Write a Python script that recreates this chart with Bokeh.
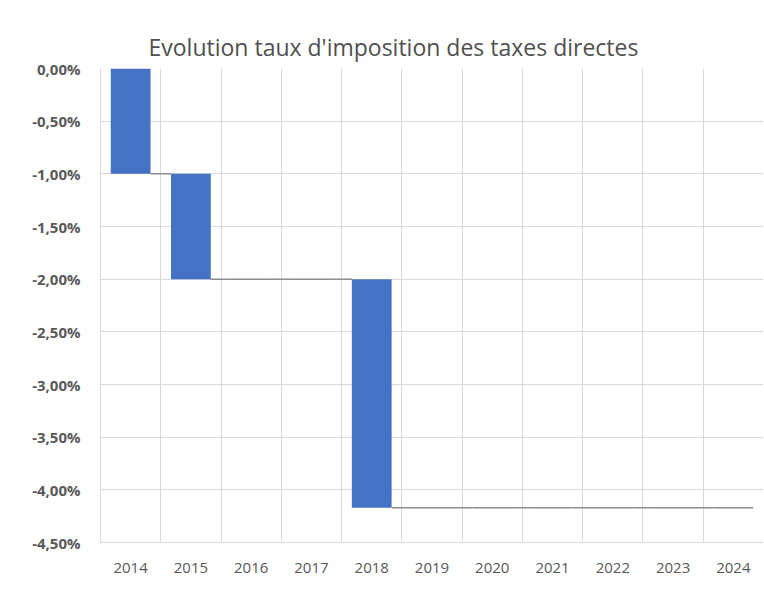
from bokeh.plotting import figure
from bokeh.models import FixedTicker, Grid, ColumnDataSource, Range1d
from bokeh.embed import file_html
from bokeh.resources import INLINE

years = ["2014", "2015", "2016", "2017", "2018", "2019", "2020", "2021", "2022", "2023", "2024"]
changes = [-1.00, -1.00, 0.0, 0.0, -2.17, 0.0, 0.0, 0.0, 0.0, 0.0, 0.0]
y_ticks = [0.0, -0.5, -1.0, -1.5, -2.0, -2.5, -3.0, -3.5, -4.0, -4.5]
y_tick_labels = ["0,00%", "-0,50%", "-1,00%", "-1,50%", "-2,00%", "-2,50%",
                 "-3,00%", "-3,50%", "-4,00%", "-4,50%"]

# waterfall start/end levels
starts, ends = [], []
level = 0.0
for c in changes:
    starts.append(level)
    level += c
    ends.append(level)

W = 0.66
xs = list(range(len(years)))

p = figure(width=763, height=592, output_backend="svg", toolbar_location=None,
           x_range=Range1d(-0.5, len(years) - 0.5), y_range=Range1d(-4.5, 0.0),
           title="Evolution taux d'imposition des taxes directes",
           min_border_left=100, min_border_right=0, min_border_top=68, min_border_bottom=50)

p.title.align = "left"
p.title.offset = 48
p.title.text_font = "Open Sans"
p.title.text_font_size = "23px"
p.title.text_font_style = "normal"
p.title.text_color = "#505050"
p.title.standoff = 12

bar_src = ColumnDataSource(dict(
    x=[x for x, c in zip(xs, changes) if c != 0],
    top=[s for s, c in zip(starts, changes) if c != 0],
    bottom=[e for e, c in zip(ends, changes) if c != 0],
))
p.vbar(x="x", width=W, top="top", bottom="bottom", source=bar_src,
       fill_color="#4472C4", line_color=None)

# connector / zero-change lines
x0, x1, yl = [], [], []
for i in range(len(years)):
    if changes[i] == 0:
        x0.append(i - W / 2); x1.append(i + W / 2); yl.append(ends[i])
    if i < len(years) - 1:
        x0.append(i + W / 2); x1.append(i + 1 - W / 2); yl.append(ends[i])
p.segment(x0=x0, y0=yl, x1=x1, y1=yl, line_color="#8c8c8c", line_width=1.5)

# axes
p.yaxis.ticker = FixedTicker(ticks=y_ticks)
p.yaxis.major_label_overrides = {t: l for t, l in zip(y_ticks, y_tick_labels)}
p.yaxis.major_label_text_font = "Open Sans"
p.yaxis.major_label_text_font_size = "15px"
p.yaxis.major_label_text_font_style = "bold"
p.yaxis.major_label_text_color = "#595959"
p.yaxis.major_label_standoff = 14
p.yaxis.axis_line_color = "#d9d9d9"
p.yaxis.major_tick_line_color = None
p.yaxis.minor_tick_line_color = None

p.xaxis.ticker = FixedTicker(ticks=xs)
p.xaxis.major_label_overrides = {i: y for i, y in zip(xs, years)}
p.xaxis.major_label_text_font = "Open Sans"
p.xaxis.major_label_text_font_size = "15px"
p.xaxis.major_label_text_color = "#595959"
p.xaxis.major_label_standoff = 14
p.xaxis.axis_line_color = "#d9d9d9"
p.xaxis.major_tick_line_color = None
p.xaxis.minor_tick_line_color = None

p.xgrid.visible = False
p.ygrid.grid_line_color = "#d9d9d9"
p.add_layout(Grid(dimension=0, ticker=FixedTicker(ticks=[i + 0.5 for i in xs]),
                  grid_line_color="#d9d9d9"))
p.outline_line_color = None

open("out.html", "w").write(file_html(p, INLINE))
